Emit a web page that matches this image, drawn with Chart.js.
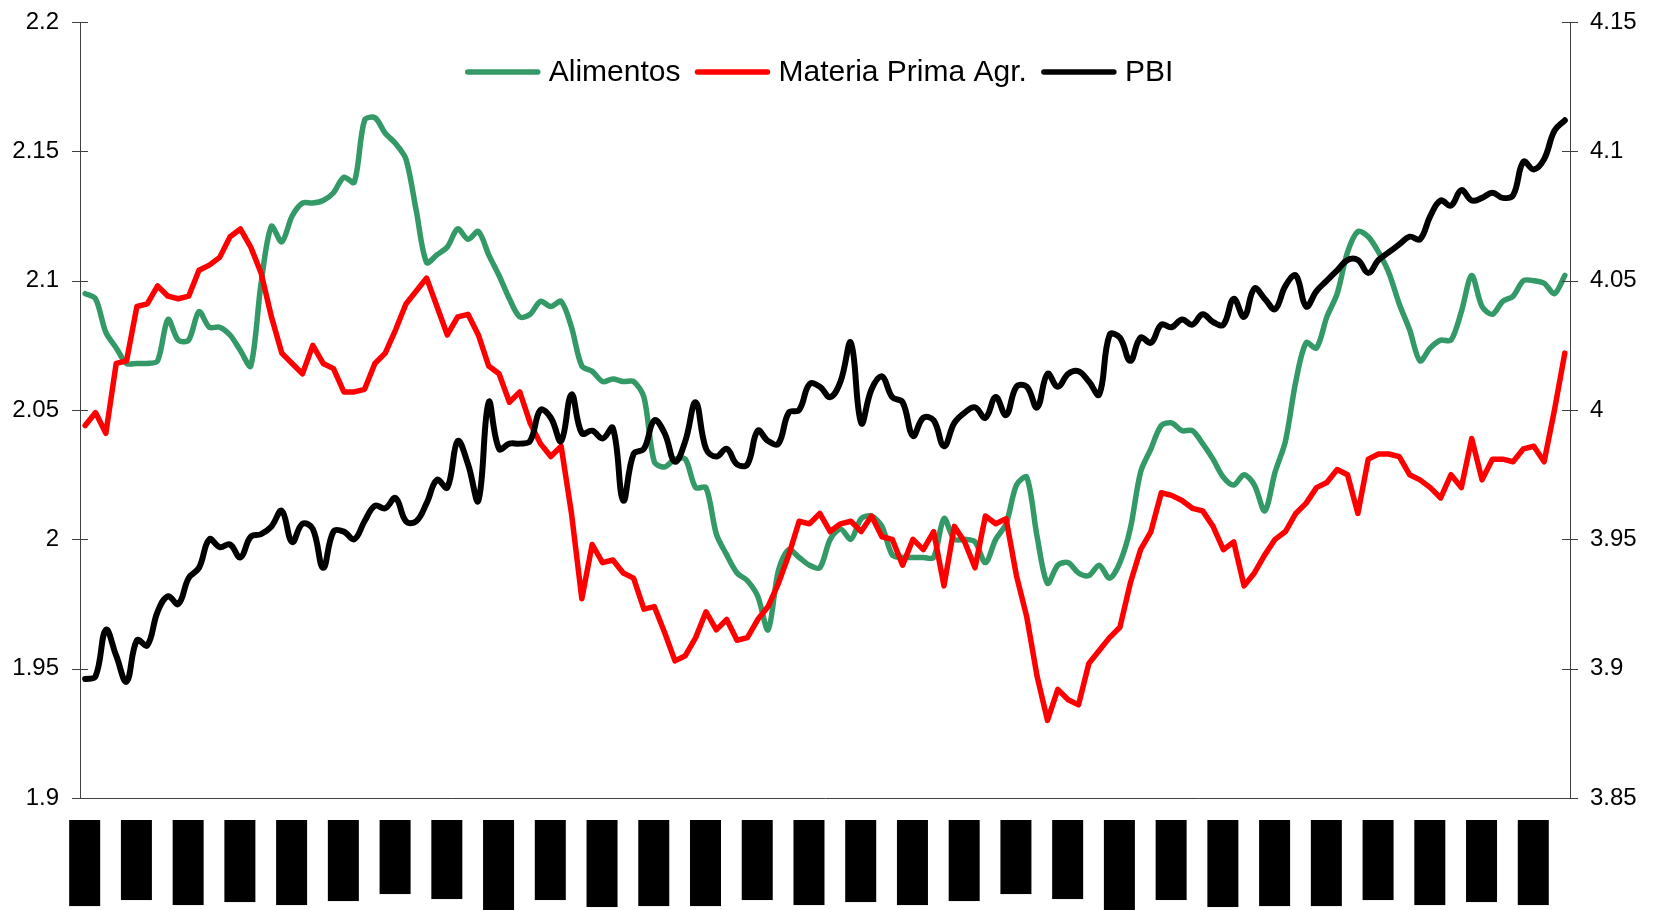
<!DOCTYPE html>
<html>
<head>
<meta charset="utf-8">
<script src="https://cdn.jsdelivr.net/npm/chart.js@4.4.1/dist/chart.umd.min.js"></script>
<style>
html, body { margin: 0; padding: 0; background: #fff; }
</style>
</head>
<body>
<canvas id="grafico" width="1660" height="910"></canvas>
<script>
const meses = ['ene', 'feb', 'mar', 'abr', 'may', 'jun', 'jul', 'ago', 'sep', 'oct', 'nov', 'dic'];
const anios = [1994, 1995, 1996, 1997, 1998, 1999, 2000, 2001, 2002, 2003, 2004, 2005];
const fechas = [];
anios.forEach(a => meses.forEach(m => fechas.push(m + '-' + a)));

const alimentos = [
  2.095, 2.093, 2.080, 2.074, 2.068, 2.068, 2.068, 2.069, 2.085, 2.077,
  2.077, 2.088, 2.082, 2.082, 2.079, 2.073, 2.067, 2.099, 2.121, 2.115,
  2.125, 2.130, 2.130, 2.131, 2.134, 2.140, 2.138, 2.162, 2.163, 2.157,
  2.153, 2.147, 2.127, 2.107, 2.110, 2.113, 2.120, 2.116, 2.119, 2.110,
  2.102, 2.093, 2.086, 2.087, 2.092, 2.090, 2.092, 2.082, 2.067, 2.065,
  2.061, 2.062, 2.061, 2.061, 2.055, 2.030, 2.028, 2.031, 2.031, 2.020,
  2.020, 2.002, 1.994, 1.987, 1.984, 1.978, 1.965, 1.988, 1.996, 1.993,
  1.990, 1.989, 2.000, 2.004, 2.000, 2.008, 2.009, 2.005, 1.994, 1.993,
  1.993, 1.993, 1.993, 2.008, 2.000, 2.000, 1.999, 1.991, 2.000, 2.006,
  2.021, 2.024, 2.001, 1.983, 1.990, 1.991, 1.987, 1.986, 1.990, 1.985,
  1.991, 2.004, 2.026, 2.035, 2.044, 2.045, 2.042, 2.042, 2.037, 2.031,
  2.024, 2.021, 2.025, 2.021, 2.011, 2.026, 2.038, 2.061, 2.076, 2.074,
  2.086, 2.095, 2.111, 2.119, 2.117, 2.111, 2.103, 2.091, 2.081, 2.069,
  2.074, 2.077, 2.077, 2.088, 2.102, 2.090, 2.087, 2.092, 2.094, 2.100,
  2.100, 2.099, 2.095, 2.102
];

const materiaPrima = [
  2.044, 2.049, 2.041, 2.068, 2.069, 2.090, 2.091, 2.098, 2.094, 2.093,
  2.094, 2.104, 2.106, 2.109, 2.117, 2.120, 2.113, 2.103, 2.086, 2.072,
  2.068, 2.064, 2.075, 2.068, 2.066, 2.057, 2.057, 2.058, 2.068, 2.072,
  2.081, 2.091, 2.096, 2.101, 2.090, 2.079, 2.086, 2.087, 2.079, 2.067,
  2.064, 2.053, 2.057, 2.045, 2.037, 2.032, 2.036, 2.010, 1.977, 1.998,
  1.991, 1.992, 1.987, 1.985, 1.973, 1.974, 1.964, 1.953, 1.955, 1.962,
  1.972, 1.965, 1.969, 1.961, 1.962, 1.969, 1.974, 1.983, 1.994, 2.007,
  2.006, 2.010, 2.003, 2.006, 2.007, 2.003, 2.009, 2.001, 2.000, 1.990,
  2.000, 1.996, 2.003, 1.982, 2.005, 1.999, 1.989, 2.009, 2.006, 2.008,
  1.986, 1.970, 1.947, 1.930, 1.942, 1.938, 1.936, 1.952, 1.957, 1.962,
  1.966, 1.983, 1.996, 2.003, 2.018, 2.017, 2.015, 2.012, 2.011, 2.005,
  1.996, 1.999, 1.982, 1.987, 1.994, 2.000, 2.003, 2.010, 2.014, 2.020,
  2.022, 2.027, 2.025, 2.010, 2.031, 2.033, 2.033, 2.032, 2.025, 2.023,
  2.020, 2.016, 2.025, 2.020, 2.039, 2.023, 2.031, 2.031, 2.030, 2.035,
  2.036, 2.030, 2.050, 2.072
];

const pbi = [
  3.896, 3.897, 3.915, 3.905, 3.895, 3.911, 3.909, 3.922, 3.928, 3.925,
  3.935, 3.939, 3.950, 3.947, 3.948, 3.943, 3.951, 3.952, 3.955, 3.961,
  3.949, 3.956, 3.954, 3.939, 3.953, 3.953, 3.950, 3.957, 3.963, 3.962,
  3.966, 3.957, 3.957, 3.964, 3.973, 3.970, 3.988, 3.979, 3.965, 4.003,
  3.985, 3.987, 3.987, 3.988, 4.000, 3.997, 3.988, 4.006, 3.991, 3.992,
  3.989, 3.993, 3.965, 3.983, 3.985, 3.996, 3.991, 3.980, 3.988, 4.003,
  3.985, 3.982, 3.985, 3.979, 3.979, 3.992, 3.988, 3.987, 3.999, 4.000,
  4.010, 4.009, 4.005, 4.011, 4.026, 3.995, 4.008, 4.013, 4.005, 4.003,
  3.990, 3.997, 3.996, 3.986, 3.995, 3.999, 4.001, 3.997, 4.005, 3.998,
  4.009, 4.009, 4.001, 4.014, 4.009, 4.014, 4.015, 4.011, 4.006, 4.029,
  4.028, 4.019, 4.028, 4.026, 4.033, 4.032, 4.035, 4.033, 4.037, 4.034,
  4.033, 4.043, 4.036, 4.047, 4.043, 4.039, 4.048, 4.052, 4.040, 4.046,
  4.050, 4.054, 4.058, 4.058, 4.053, 4.058, 4.061, 4.064, 4.067, 4.066,
  4.075, 4.081, 4.079, 4.085, 4.081, 4.082, 4.084, 4.082, 4.083, 4.096,
  4.093, 4.097, 4.108, 4.112
];

const ticksIzq = ['1.9', '1.95', '2', '2.05', '2.1', '2.15', '2.2'];
const ticksDer = ['3.85', '3.9', '3.95', '4', '4.05', '4.1', '4.15'];

const colorEje = '#404040';
const fuente = '"Liberation Sans", Arial, sans-serif';

// marcas de eje que cruzan la linea (como en Excel)
const marcasEje = {
  id: 'marcasEje',
  afterDraw(chart) {
    const ctx = chart.ctx;
    ctx.save();
    ctx.strokeStyle = colorEje;
    ctx.lineWidth = 1;
    ['y', 'y2'].forEach(id => {
      const s = chart.scales[id];
      const x = id === 'y' ? s.right : s.left;
      s.ticks.forEach((t, i) => {
        const y = Math.round(s.getPixelForTick(i)) + 0.5;
        ctx.beginPath();
        ctx.moveTo(x - 8, y);
        ctx.lineTo(x + 8, y);
        ctx.stroke();
      });
    });
    ctx.restore();
  }
};

// leyenda dentro del area del grafico
const leyenda = {
  id: 'leyenda',
  afterDraw(chart) {
    const ctx = chart.ctx;
    const area = chart.chartArea;
    ctx.save();
    ctx.font = '30px ' + fuente;
    const largo = 76, gapTexto = 8, gapItem = 14;
    const items = chart.data.datasets.map(d => ({
      texto: d.label,
      color: d.borderColor,
      ancho: ctx.measureText(d.label).width
    }));
    const total = items.reduce((s, it) => s + largo + gapTexto + it.ancho, 0) + gapItem * (items.length - 1);
    let x = (area.left + area.right) / 2 - total / 2 - 6;
    const y = 72;
    ctx.textBaseline = 'middle';
    ctx.lineCap = 'round';
    items.forEach(it => {
      ctx.strokeStyle = it.color;
      ctx.lineWidth = 5.5;
      ctx.beginPath();
      ctx.moveTo(x + 3, y);
      ctx.lineTo(x + largo - 3, y);
      ctx.stroke();
      ctx.fillStyle = '#000';
      ctx.fillText(it.texto, x + largo + gapTexto, y + 1);
      x += largo + gapTexto + it.ancho + gapItem;
    });
    ctx.restore();
  }
};

const ajusteVertical = w => s => { s.width = w; s.paddingTop = 0; s.paddingBottom = 0; };

new Chart(document.getElementById('grafico'), {
  type: 'line',
  data: {
    labels: fechas,
    datasets: [
      { label: 'Alimentos', data: alimentos, yAxisID: 'y', borderColor: '#339966', borderWidth: 5.5, tension: 0.3, order: 3 },
      { label: 'Materia Prima Agr.', data: materiaPrima, yAxisID: 'y', borderColor: '#ff0000', borderWidth: 5.5, tension: 0, order: 2 },
      { label: 'PBI', data: pbi, yAxisID: 'y2', borderColor: '#000000', borderWidth: 6, tension: 0.4, order: 1 }
    ]
  },
  options: {
    responsive: false,
    animation: false,
    devicePixelRatio: 1,
    layout: { padding: { top: 22, left: 0, right: 0, bottom: 0 } },
    elements: {
      point: { radius: 0 },
      line: { borderCapStyle: 'round', borderJoinStyle: 'round' }
    },
    plugins: { legend: { display: false }, tooltip: { enabled: false } },
    scales: {
      x: {
        type: 'category',
        offset: true,
        grid: { display: true, drawOnChartArea: false, drawTicks: false },
        border: { display: true, color: colorEje, width: 1 },
        afterBuildTicks(s) { s.ticks = s.ticks.filter((t, i) => i % 5 === 0); },
        afterFit(s) { s.height = 112; s.paddingLeft = 0; s.paddingRight = 0; },
        ticks: {
          autoSkip: false,
          minRotation: 90,
          maxRotation: 90,
          padding: 25,
          color: '#000',
          font: { family: fuente, size: 18, lineHeight: 0.5 },
          showLabelBackdrop: true,
          backdropColor: '#000',
          backdropPadding: { top: 16, bottom: 6, left: 7, right: 3 }
        }
      },
      y: {
        position: 'left',
        min: 1.9,
        max: 2.2,
        grid: { display: true, drawOnChartArea: false, drawTicks: false },
        border: { display: true, color: colorEje, width: 1 },
        afterFit: ajusteVertical(80),
        ticks: {
          stepSize: 0.05,
          padding: 21,
          color: '#000',
          font: { family: fuente, size: 24 },
          callback: (v, i) => ticksIzq[i]
        }
      },
      y2: {
        position: 'right',
        min: 3.85,
        max: 4.15,
        grid: { display: true, drawOnChartArea: false, drawTicks: false },
        border: { display: true, color: colorEje, width: 1 },
        afterFit: ajusteVertical(90),
        ticks: {
          stepSize: 0.05,
          padding: 20,
          color: '#000',
          font: { family: fuente, size: 24 },
          callback: (v, i) => ticksDer[i]
        }
      }
    }
  },
  plugins: [marcasEje, leyenda]
});
</script>
</body>
</html>
